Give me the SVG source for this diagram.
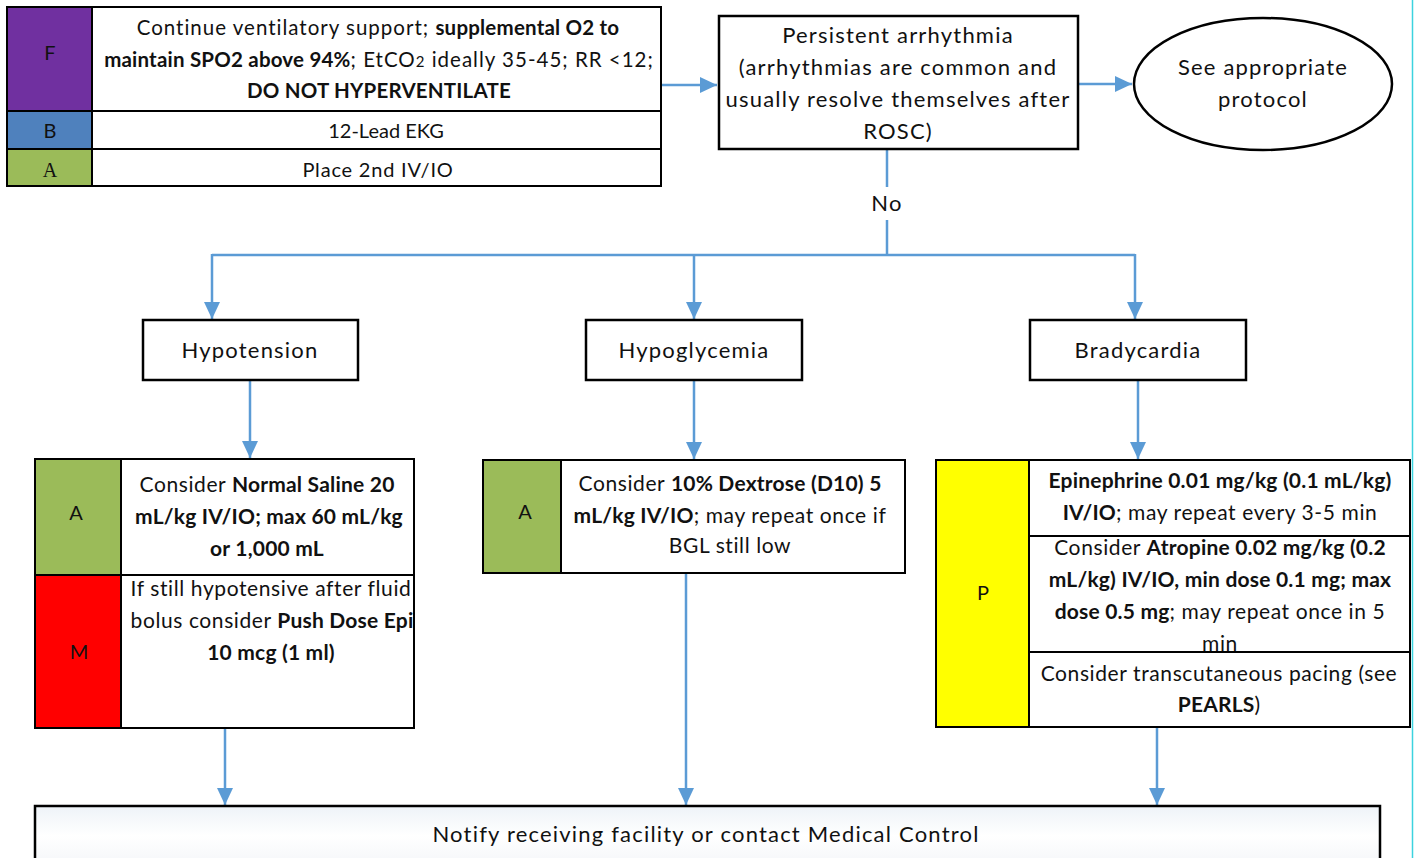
<svg xmlns="http://www.w3.org/2000/svg" width="1415" height="858" viewBox="0 0 1415 858">
<style>
  .t{font-family:Lato,"Open Sans","Liberation Sans",sans-serif;fill:#111;text-anchor:middle}
  .s19{font-size:20.5px;letter-spacing:1px}
  .s19 .b,.s19.b{letter-spacing:0.2px}
  .s20{font-size:21px;letter-spacing:0.6px}
  .s20 .b,.s20.b{letter-spacing:0.2px}
  .s21{font-size:22px;letter-spacing:1.2px}
  .lbl{font-size:20px}
  .b{font-weight:bold}
  .box{fill:#fff;stroke:#000;stroke-width:2.5}
  .cell{stroke:#000;stroke-width:2}
  .conn{fill:none;stroke:#5b9bd5;stroke-width:2.5}
</style>
<defs>
  <marker id="ah" markerUnits="userSpaceOnUse" markerWidth="18" markerHeight="16" refX="17" refY="8" orient="auto">
    <path d="M0,0 L17,8 L0,16 Z" fill="#5b9bd5"/>
  </marker>
  <linearGradient id="bg" x1="0" y1="0" x2="0" y2="1">
    <stop offset="0" stop-color="#eef3f8"/>
    <stop offset="0.5" stop-color="#ffffff"/>
    <stop offset="1" stop-color="#f4f6f9"/>
  </linearGradient>
</defs>
<rect x="0" y="0" width="1415" height="858" fill="#fff"/>
<line x1="1412.5" y1="0" x2="1412.5" y2="858" stroke="#3cd3df" stroke-width="1.5"/>

<g id="connectors">
  <path class="conn" d="M661,85 H717" marker-end="url(#ah)"/>
  <path class="conn" d="M1078,84 H1132" marker-end="url(#ah)"/>
  <path class="conn" d="M887,150 V187"/>
  <path class="conn" d="M887,220 V255"/>
  <path class="conn" d="M212,255 H1135"/>
  <path class="conn" d="M212,254 V319" marker-end="url(#ah)"/>
  <path class="conn" d="M694,255 V319" marker-end="url(#ah)"/>
  <path class="conn" d="M1135,254 V319" marker-end="url(#ah)"/>
  <path class="conn" d="M250,381 V458" marker-end="url(#ah)"/>
  <path class="conn" d="M694,381 V459" marker-end="url(#ah)"/>
  <path class="conn" d="M1138,381 V459" marker-end="url(#ah)"/>
  <path class="conn" d="M225,729 V805" marker-end="url(#ah)"/>
  <path class="conn" d="M686,574 V805" marker-end="url(#ah)"/>
  <path class="conn" d="M1157,728 V805" marker-end="url(#ah)"/>
  <text class="t s21" x="887" y="211">No</text>
</g>

<g id="top-table">
  <rect x="7" y="7" width="85" height="104" fill="#7030a0" class="cell"/>
  <rect x="7" y="111" width="85" height="38" fill="#4f81bd" class="cell"/>
  <rect x="7" y="149" width="85" height="37" fill="#9bbb59" class="cell"/>
  <rect x="92" y="7" width="569" height="104" fill="#fff" class="cell"/>
  <rect x="92" y="111" width="569" height="38" fill="#fff" class="cell"/>
  <rect x="92" y="149" width="569" height="37" fill="#fff" class="cell"/>
  <text class="t lbl" x="50" y="60">F</text>
  <text class="t lbl" x="50" y="138">B</text>
  <text x="50" y="177" style="font-family:'Liberation Serif',serif;font-size:20px;text-anchor:middle;fill:#111">A</text>
  <text class="t s19" x="378" y="35">Continue ventilatory support; <tspan class="b">supplemental O2 to</tspan></text>
  <text class="t s19" x="379" y="67"><tspan class="b">maintain SPO2 above 94%</tspan>; EtCO<tspan font-size="15">2</tspan> ideally 35-45; RR &lt;12;</text>
  <text class="t s19 b" x="379" y="98">DO NOT HYPERVENTILATE</text>
  <text class="t lbl" x="386" y="138">12-Lead EKG</text>
  <text class="t lbl" x="378" y="177" style="letter-spacing:0.8px">Place 2nd IV/IO</text>
</g>

<g id="persistent-arrhythmia">
  <rect class="box" x="719" y="16" width="359" height="133"/>
  <text class="t s21" x="898" y="43">Persistent arrhythmia</text>
  <text class="t s21" x="898" y="75">(arrhythmias are common and</text>
  <text class="t s21" x="898" y="107">usually resolve themselves after</text>
  <text class="t s21" x="898" y="139">ROSC)</text>
</g>

<g id="see-protocol">
  <ellipse cx="1263" cy="84" rx="129" ry="66" fill="#fff" stroke="#000" stroke-width="2.5"/>
  <text class="t s21" x="1263" y="75">See appropriate</text>
  <text class="t s21" x="1263" y="107">protocol</text>
</g>

<g id="hypotension">
  <rect class="box" x="143" y="320" width="215" height="60"/>
  <text class="t s21" x="250" y="358">Hypotension</text>
</g>
<g id="hypoglycemia">
  <rect class="box" x="586" y="320" width="216" height="60"/>
  <text class="t s21" x="694" y="358">Hypoglycemia</text>
</g>
<g id="bradycardia">
  <rect class="box" x="1030" y="320" width="216" height="60"/>
  <text class="t s21" x="1138" y="358">Bradycardia</text>
</g>

<g id="hypotension-table">
  <rect x="35" y="459" width="86" height="116" fill="#9bbb59" class="cell"/>
  <rect x="35" y="575" width="86" height="153" fill="#ff0000" class="cell"/>
  <rect x="121" y="459" width="293" height="116" fill="#fff" class="cell"/>
  <rect x="121" y="575" width="293" height="153" fill="#fff" class="cell"/>
  <text class="t lbl" x="76" y="520">A</text>
  <text class="t lbl" x="79" y="659">M</text>
  <text class="t s20" x="267" y="492">Consider <tspan class="b">Normal Saline 20</tspan></text>
  <text class="t s20 b" x="269" y="524">mL/kg IV/IO; max 60 mL/kg</text>
  <text class="t s20 b" x="267" y="556">or 1,000 mL</text>
  <text class="t s20" x="271" y="596">If still hypotensive after fluid</text>
  <text class="t s20" x="272" y="628">bolus consider <tspan class="b">Push Dose Epi</tspan></text>
  <text class="t s20 b" x="271" y="660">10 mcg (1 ml)</text>
</g>

<g id="hypoglycemia-table">
  <rect x="483" y="460" width="78" height="113" fill="#9bbb59" class="cell"/>
  <rect x="561" y="460" width="344" height="113" fill="#fff" class="cell"/>
  <text class="t lbl" x="525" y="519">A</text>
  <text class="t s20" x="730" y="491">Consider <tspan class="b">10% Dextrose (D10) 5</tspan></text>
  <text class="t s20" x="730" y="523"><tspan class="b">mL/kg IV/IO</tspan>; may repeat once if</text>
  <text class="t s20" x="730" y="553">BGL still low</text>
</g>

<g id="bradycardia-table">
  <rect x="936" y="460" width="93" height="267" fill="#ffff00" class="cell"/>
  <rect x="1029" y="460" width="381" height="76" fill="#fff" class="cell"/>
  <rect x="1029" y="536" width="381" height="116" fill="#fff" class="cell"/>
  <rect x="1029" y="652" width="381" height="75" fill="#fff" class="cell"/>
  <text class="t lbl" x="983" y="600">P</text>
  <text class="t s20 b" x="1220" y="488">Epinephrine 0.01 mg/kg (0.1 mL/kg)</text>
  <text class="t s20" x="1220" y="520"><tspan class="b">IV/IO</tspan>; may repeat every 3-5 min</text>
  <text class="t s20" x="1220" y="555">Consider <tspan class="b">Atropine 0.02 mg/kg (0.2</tspan></text>
  <text class="t s20 b" x="1220" y="587">mL/kg) IV/IO, min dose 0.1 mg; max</text>
  <text class="t s20" x="1220" y="619"><tspan class="b">dose 0.5 mg</tspan>; may repeat once in 5</text>
  <text class="t s20" x="1220" y="651">min</text>
  <line x1="1029" y1="652" x2="1410" y2="652" stroke="#000" stroke-width="2"/>
  <text class="t s20" x="1219" y="681">Consider transcutaneous pacing (see</text>
  <text class="t s20 b" x="1219" y="712">PEARLS<tspan font-weight="normal">)</tspan></text>
</g>

<g id="notify">
  <rect x="35" y="806" width="1345" height="60" fill="url(#bg)" stroke="#000" stroke-width="2.5"/>
  <text class="t s21" x="706" y="842">Notify receiving facility or contact Medical Control</text>
</g>
</svg>
